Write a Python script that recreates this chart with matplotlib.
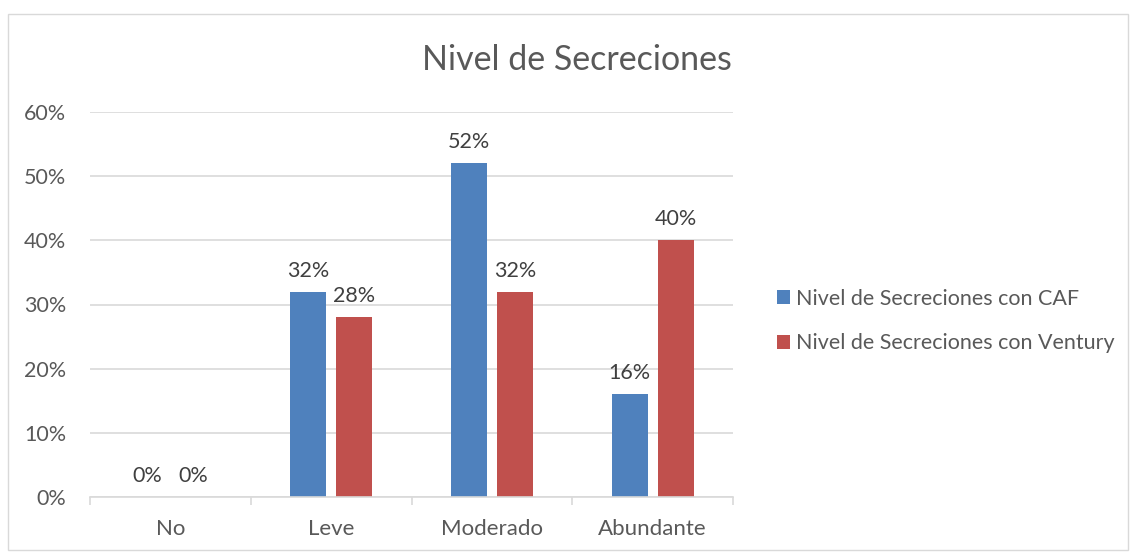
import matplotlib
matplotlib.use("Agg")
import matplotlib.pyplot as plt
from matplotlib.patches import Rectangle
import numpy as np

categories = ["No", "Leve", "Moderado", "Abundante"]
caf = [0, 32, 52, 16]
ventury = [0, 28, 32, 40]
series_names = ["Nivel de Secreciones con CAF", "Nivel de Secreciones con Ventury"]
title = "Nivel de Secreciones"

plt.rcParams['font.family'] = ['Lato', 'DejaVu Sans']
gray = "#595959"
blue = "#4F81BD"
red = "#C0504D"

fig = plt.figure(figsize=(11.33, 5.52), dpi=100)
# outer border
fig.patches.append(Rectangle((8/1133, 2/552), 1120/1133, 536/552, transform=fig.transFigure,
                             fill=False, edgecolor="#D9D9D9", linewidth=1.0))
ax = fig.add_axes([90/1133, 1-497/552, (733-90)/1133, (497-112)/552])

x = np.arange(len(categories))
w = 0.224
off = 0.143
b1 = ax.bar(x - off, caf, w, color=blue, label=series_names[0])
b2 = ax.bar(x + off, ventury, w, color=red, label=series_names[1])
for bars, vals in ((b1, caf), (b2, ventury)):
    for r, v in zip(bars, vals):
        ax.annotate(f"{v}%", (r.get_x() + r.get_width()/2, v), xytext=(0, 8),
                    textcoords="offset points", ha="center", va="bottom",
                    fontsize=15.5, color="#404040")

ax.set_xlim(-0.5, len(categories) - 0.5)
ax.set_ylim(0, 60)
ax.set_yticks(range(0, 61, 10))
ax.set_yticklabels([f"{t}%" for t in range(0, 61, 10)], fontsize=15.5, color=gray)
ax.yaxis.grid(True, color="#D9D9D9", linewidth=1.2)
ax.set_axisbelow(True)
ax.tick_params(axis="y", length=0, pad=17)
ax.set_xticks(x)
ax.set_xticklabels(categories, fontsize=16, color=gray)
ax.set_xticks(np.arange(-0.5, len(categories), 1.0), minor=True)
ax.tick_params(axis="x", which="major", length=0, pad=16)
ax.tick_params(axis="x", which="minor", length=6, color="#D9D9D9", width=1.2)
for s in ["top", "right", "left"]:
    ax.spines[s].set_visible(False)
ax.spines["bottom"].set_color("#D9D9D9")
ax.spines["bottom"].set_linewidth(1.2)

fig.text(577/1133, 1-60/552, title, ha="center", va="center", fontsize=24.5, color=gray)

leg = fig.legend(handles=[b1, b2], loc="center left", bbox_to_anchor=(758/1133, 1-321/552),
                 frameon=False, fontsize=15.5, handlelength=0.6, handleheight=0.6,
                 handletextpad=0.25, labelspacing=1.15, labelcolor=gray)

fig.savefig("out.png", dpi=100)
